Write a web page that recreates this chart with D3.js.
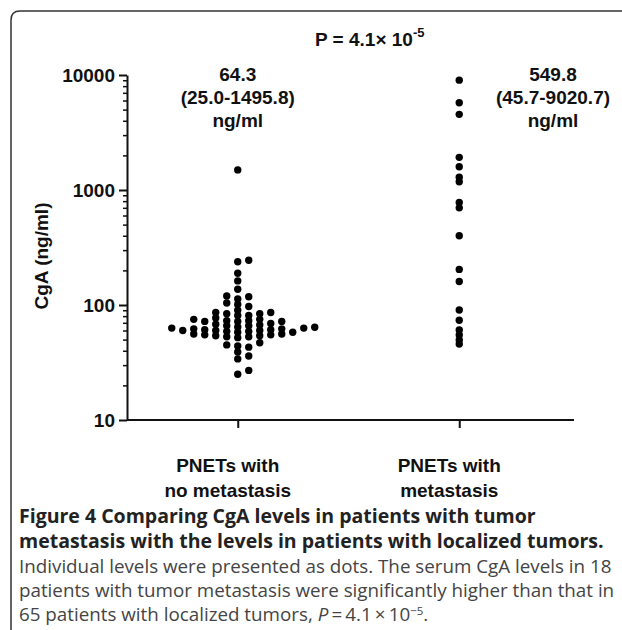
<!DOCTYPE html>
<html lang="en">
<head>
<meta charset="UTF-8">
<title>CgA levels by metastasis status</title>
<script src="https://cdnjs.cloudflare.com/ajax/libs/d3/7.8.5/d3.min.js"></script>
<style>
  body { margin: 0; background: #fff; }
  svg { display: block; }
  .plot text { font-family: "Liberation Sans", Arial, sans-serif; font-weight: bold; fill: #111; }
  .caption text { font-family: "Open Sans", sans-serif; }
</style>
</head>
<body>
<svg id="fig" width="622" height="630"></svg>
<script>
// groups and values (ng/ml)
const groups = ["none", "meta"];
const groupLabels = [["PNETs with", "no metastasis"], ["PNETs with", "metastasis"]];
const noMetastasis = [
  1495.8, 245, 238, 189, 162, 137, 120, 118, 113, 104, 101, 97, 90, 86, 86,
  84, 84, 81, 81, 77, 75, 75, 73, 73, 72, 72, 72,
  69, 68, 67, 66, 66, 64.3, 64, 63, 63, 62, 62, 61, 61, 60, 60, 60, 59, 59, 58, 58,
  56, 56, 55, 55, 54, 54, 53, 53, 52,
  47, 45, 44, 43, 39, 36, 34, 27, 25.0
];
const metastasis = [
  9020.7, 5740, 4550, 1923, 1595, 1290, 1180, 780, 699.6, 400,
  204, 160, 90.6, 73.6, 60.7, 54.8, 49.6, 45.7
];
const medianText = ["64.3", "549.8"];
const rangeText = ["(25.0-1495.8)", "(45.7-9020.7)"];
const yTicks = [10, 100, 1000, 10000];
const captionBold = [
  "Figure 4 Comparing CgA levels in patients with tumor",
  "metastasis with the levels in patients with localized tumors."
];
const captionBody = [
  "Individual levels were presented as dots. The serum CgA levels in 18",
  "patients with tumor metastasis were significantly higher than that in"
];

const svg = d3.select("#fig");

// frame round the figure
svg.append("path")
  .attr("d", "M11,630 L11,20 Q11,11 20,11 L622,11")
  .attr("fill", "none")
  .attr("stroke", "#333")
  .attr("stroke-width", 1.5);

const g = svg.append("g").attr("class", "plot");

const x = d3.scalePoint().domain(groups).range([127, 570]).padding(0.5);
const y = d3.scaleLog().domain([10, 10000]).range([420, 75]);

// minor ticks
const minor = [];
for (let d = 10; d < 10000; d *= 10) {
  for (let k = 2; k <= 9; k++) minor.push(d * k);
}
g.append("g")
  .attr("transform", "translate(127,0)")
  .call(d3.axisLeft(y).tickValues(minor).tickSize(4).tickSizeOuter(0).tickFormat(""))
  .call(a => a.select(".domain").remove())
  .selectAll("line").attr("stroke", "#111").attr("stroke-width", 1.5);

const yAxis = g.append("g")
  .attr("transform", "translate(127,0)")
  .call(d3.axisLeft(y).tickValues(yTicks).tickSize(8).tickSizeOuter(0).tickFormat(d3.format("d")));
yAxis.select(".domain").attr("stroke", "#111").attr("stroke-width", 2);
yAxis.selectAll(".tick line").attr("stroke", "#111").attr("stroke-width", 2);
yAxis.selectAll(".tick text").attr("x", -12).attr("dy", "0.36em")
  .style("font-size", "19px");

const xAxis = g.append("g")
  .attr("transform", "translate(0,420)")
  .call(d3.axisBottom(x).tickSize(8).tickSizeOuter(0).tickFormat(""));
xAxis.select(".domain").attr("stroke", "#111").attr("stroke-width", 2)
  .attr("d", "M127,0H574");
xAxis.selectAll(".tick line").attr("stroke", "#111").attr("stroke-width", 2);

// category labels
groups.forEach((grp, i) => {
  const t = g.append("text")
    .attr("text-anchor", "middle")
    .style("font-size", "19px");
  groupLabels[i].forEach((line, j) => {
    t.append("tspan").attr("x", x(grp) - 10).attr("y", 472 + j * 25).text(line);
  });
});

g.append("text")
  .attr("transform", "translate(48,256) rotate(-90)")
  .attr("text-anchor", "middle")
  .style("font-size", "19px")
  .text("CgA (ng/ml)");

// median / range notes
const noteX = [x("none"), 553];
groups.forEach((grp, i) => {
  const t = g.append("text").attr("text-anchor", "middle").style("font-size", "19px");
  [medianText[i], rangeText[i], "ng/ml"].forEach((line, j) => {
    t.append("tspan").attr("x", noteX[i]).attr("y", 81 + j * 23).text(line);
  });
});

const pText = g.append("text").attr("x", 315).attr("y", 46).style("font-size", "19px");
pText.append("tspan").text("P = 4.1\u00d7 10");
pText.append("tspan").attr("dy", -9).style("font-size", "13px").text("-5");

// column scatter: step out sideways in fixed columns until the dot is free
function swarm(values, grp, minDy) {
  const step = 11;
  const placed = [];
  values.slice().sort((a, b) => a - b).forEach(v => {
    const py = y(v);
    for (let k = 0; k < 40; k++) {
      const col = k === 0 ? 0 : (k % 2 ? (k + 1) / 2 : -k / 2);
      const hit = placed.some(p => p.col === col && Math.abs(p.py - py) < minDy);
      if (!hit) { placed.push({ v, py, col, grp }); break; }
    }
  });
  return placed.map(p => ({ ...p, px: x(grp) + p.col * step }));
}

const dots = swarm(noMetastasis, "none", 5).concat(swarm(metastasis, "meta", 0));
g.append("g").selectAll("circle")
  .data(dots)
  .join("circle")
  .attr("cx", d => d.px)
  .attr("cy", d => d.py)
  .attr("r", 3.7)
  .attr("fill", "#000");

// caption
const cap = svg.append("g").attr("class", "caption");
captionBold.forEach((line, i) => {
  cap.append("text").attr("x", 19).attr("y", 523 + i * 25)
    .style("font-size", "19.5px").style("font-weight", "bold").attr("fill", "#222")
    .text(line);
});
captionBody.forEach((line, i) => {
  cap.append("text").attr("x", 19).attr("y", 573 + i * 24)
    .style("font-size", "18.8px").attr("fill", "#444")
    .text(line);
});
const last = cap.append("text").attr("x", 19).attr("y", 621)
  .style("font-size", "18.8px").attr("fill", "#444");
last.append("tspan").text("65 patients with localized tumors, ");
last.append("tspan").style("font-style", "italic").text("P");
last.append("tspan").text("\u2009=\u20094.1\u2009\u00d7\u200910");
last.append("tspan").attr("dy", -6).style("font-size", "11.5px").text("\u22125");
last.append("tspan").attr("dy", 6).text(".");
</script>
</body>
</html>
